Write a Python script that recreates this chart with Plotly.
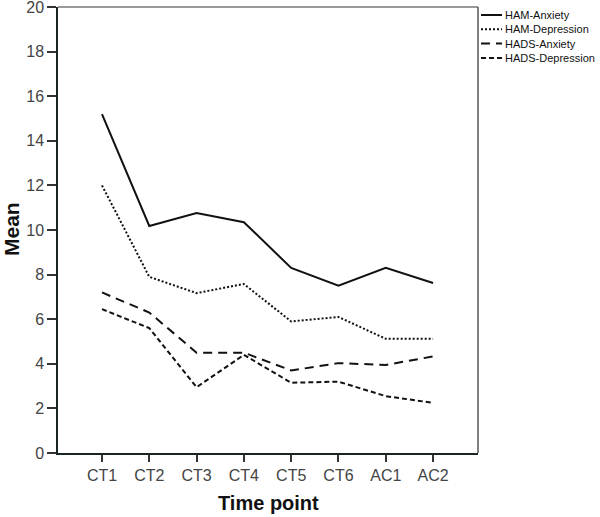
import plotly.graph_objects as go

time_points = ["CT1", "CT2", "CT3", "CT4", "CT5", "CT6", "AC1", "AC2"]
ham_anxiety = [15.2, 10.18, 10.76, 10.35, 8.3, 7.5, 8.3, 7.62]
ham_depression = [12.0, 7.9, 7.17, 7.58, 5.9, 6.1, 5.12, 5.12]
hads_anxiety = [7.2, 6.3, 4.5, 4.5, 3.7, 4.03, 3.95, 4.33]
hads_depression = [6.45, 5.6, 2.95, 4.4, 3.15, 3.2, 2.55, 2.25]
y_ticks = list(range(0, 21, 2))

series_names = ["HAM-Anxiety", "HAM-Depression", "HADS-Anxiety", "HADS-Depression"]
series_values = [ham_anxiety, ham_depression, hads_anxiety, hads_depression]
series_dash = ["solid", "2px,2px", "9px,6px", "5px,3px"]

FONT = "Liberation Sans, Arial, sans-serif"
W, H = 600, 517
ML, MR, MT, MB = 58, 122, 7, 64
PW, PH = W - ML - MR, H - MT - MB


def px_x(p):
    return (p - ML) / PW


def px_y(p):
    return (H - MB - p) / PH


fig = go.Figure()
for name, vals, dash in zip(series_names, series_values, series_dash):
    fig.add_trace(go.Scatter(
        x=time_points, y=vals, name=name, mode="lines",
        line=dict(color="#111111", width=2, dash=dash),
        showlegend=False,
    ))

fig.update_layout(
    width=W, height=H,
    margin=dict(l=ML, r=MR, t=MT, b=MB, autoexpand=False),
    paper_bgcolor="white", plot_bgcolor="white",
    font=dict(family=FONT, color="#444444"),
    showlegend=False,
    xaxis=dict(
        type="category", categoryorder="array", categoryarray=time_points,
        range=[-0.93, 7.95],
        showgrid=False, zeroline=False,
        showline=True, linecolor="#1a2626", linewidth=1.5,
        ticks="outside", ticklen=7, tickwidth=1.5, tickcolor="#333333",
        tickfont=dict(family=FONT, size=16, color="#444444"),
    ),
    yaxis=dict(
        range=[0, 20], tickvals=y_ticks,
        showgrid=False, zeroline=False,
        showline=True, linecolor="#1a2626", linewidth=1.5,
        ticks="outside", ticklen=9, tickwidth=1.5, tickcolor="#333333",
        tickfont=dict(family=FONT, size=16, color="#444444"),
        ticklabeloverflow="allow",
    ),
)

# axis titles
fig.add_annotation(text="<b>Time point</b>", xref="paper", yref="paper",
                   x=0.5, y=px_y(503), xanchor="center", yanchor="middle",
                   showarrow=False, font=dict(family=FONT, size=20, color="#111111"))
fig.add_annotation(text="<b>Mean</b>", xref="paper", yref="paper",
                   x=px_x(11), y=px_y(229), xanchor="center", yanchor="middle",
                   textangle=-90, showarrow=False,
                   font=dict(family=FONT, size=21, color="#111111"))

# frame: top and right borders in gray
fig.add_shape(type="line", xref="paper", yref="paper", x0=0, x1=1, y0=1, y1=1,
              line=dict(color="#777777", width=1.5))
fig.add_shape(type="line", xref="paper", yref="paper", x0=1, x1=1, y0=0, y1=1,
              line=dict(color="#555555", width=1.5))

# legend (outside the plot, to the right)
for i, (name, dash) in enumerate(zip(series_names, series_dash)):
    yc = px_y(15 + 14.3 * i)
    fig.add_shape(type="line", xref="paper", yref="paper",
                  x0=px_x(481), x1=px_x(502), y0=yc, y1=yc,
                  line=dict(color="#111111", width=2, dash=dash))
    fig.add_annotation(text=name, xref="paper", yref="paper",
                       x=px_x(503), y=yc, xanchor="left", yanchor="middle",
                       showarrow=False,
                       font=dict(family=FONT, size=11, color="#111111"))

fig.write_html(
    "out.html",
    config={"displayModeBar": False},
    post_script="document.body.style.margin='0';document.body.style.overflow='hidden';",
)
